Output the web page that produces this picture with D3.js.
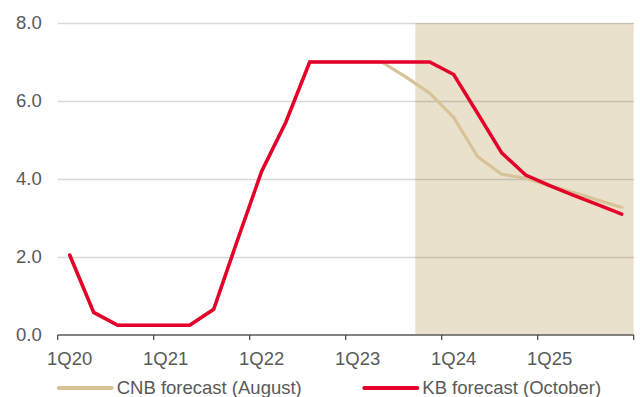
<!DOCTYPE html>
<html>
<head>
<meta charset="utf-8">
<script src="https://cdn.jsdelivr.net/npm/d3@7"></script>
<style>
  body { margin: 0; background: #fff; }
  svg text { font-family: "Liberation Sans", Arial, sans-serif; fill: #595959; }
</style>
</head>
<body>
<div id="chart"></div>
<script>
// quarters 1Q20 .. 4Q25
var quarters = [];
[20, 21, 22, 23, 24, 25].forEach(function(y) {
    [1, 2, 3, 4].forEach(function(q) { quarters.push(q + "Q" + y); });
});

var cnbForecast = [2.05, 0.58, 0.25, 0.25, 0.25, 0.25, 0.66, 2.45, 4.2, 5.45, 7.0, 7.0,
                   7.0, 7.0, 6.62, 6.2, 5.58, 4.57, 4.12, 4.02, 3.83, 3.65, 3.46, 3.27];
var kbForecast  = [2.05, 0.58, 0.25, 0.25, 0.25, 0.25, 0.66, 2.45, 4.2, 5.45, 7.0, 7.0,
                   7.0, 7.0, 7.0, 7.0, 6.68, 5.68, 4.67, 4.1, 3.83, 3.58, 3.34, 3.1];
var yTicks = [0, 2, 4, 6, 8];
var xLabels = ["1Q20", "1Q21", "1Q22", "1Q23", "1Q24", "1Q25"];
var shadeFrom = 14.9; // in quarters from start of 1Q20
var seriesNames = ["CNB forecast (August)", "KB forecast (October)"];

var m = {top: 23, right: 6.3, bottom: 62, left: 57.7}
    , W = 640, H = 397
    , w = W - m.left - m.right
    , h = H - m.top - m.bottom;

var svg = d3.select("#chart").append("svg")
    .attr("width", W)
    .attr("height", H)
    .append("g")
    .attr("transform", "translate(" + m.left + "," + m.top + ")");

var x = d3.scaleBand().domain(quarters).range([0, w]).padding(0);
var xq = d3.scaleLinear().domain([0, quarters.length]).range([0, w]);
var y = d3.scaleLinear().domain([0, 8]).range([h, 0]);

//shaded forecast area
svg.append("rect")
    .attr("x", xq(shadeFrom))
    .attr("y", y(8))
    .attr("width", xq(quarters.length) - xq(shadeFrom))
    .attr("height", y(0) - y(8))
    .attr("fill", "#e9e1cb");

//gridlines + y labels
var yAxis = d3.axisLeft(y).tickValues(yTicks).tickSize(-w).tickPadding(16)
    .tickFormat(d3.format(".1f"));
var gy = svg.append("g").call(yAxis);
gy.select(".domain").remove();
gy.selectAll("line")
    .attr("stroke", "#000")
    .attr("stroke-opacity", function(d) { return d === 0 ? 0 : 0.15; })
    .attr("stroke-width", 1.5);
gy.selectAll("text").style("font-size", "18.5px").attr("fill", "#595959");

//x axis
var gx = svg.append("g").attr("transform", "translate(0," + h + ")");
gx.append("line")
    .attr("x1", 0).attr("x2", w)
    .attr("stroke", "#595959").attr("stroke-width", 1.5);
var tickIdx = d3.range(0, quarters.length + 1, 4);
gx.selectAll(".tick").data(tickIdx).enter().append("line")
    .attr("x1", function(d) { return xq(d); })
    .attr("x2", function(d) { return xq(d); })
    .attr("y1", 0).attr("y2", 5)
    .attr("stroke", "#404040").attr("stroke-width", 1.2);
gx.selectAll(".lbl").data(xLabels).enter().append("text")
    .attr("x", function(d) { return x(d) + x.bandwidth() / 2; })
    .attr("y", 29.5)
    .attr("text-anchor", "middle")
    .style("font-size", "18.5px")
    .text(function(d) { return d; });

//lines
var line = d3.line()
    .x(function(d, i) { return x(quarters[i]) + x.bandwidth() / 2; })
    .y(function(d) { return y(d); });

svg.append("path").datum(cnbForecast)
    .attr("d", line)
    .attr("fill", "none")
    .attr("stroke", "#d7c397")
    .attr("stroke-width", 3.2)
    .attr("stroke-linecap", "round");

svg.append("path").datum(kbForecast)
    .attr("d", line)
    .attr("fill", "none")
    .attr("stroke", "#e4002b")
    .attr("stroke-width", 3.5)
    .attr("stroke-linecap", "round");

//legend
var legend = [
    {name: seriesNames[0], color: "#d7c397", x: 0},
    {name: seriesNames[1], color: "#e4002b", x: 305.6}
];
var lg = svg.selectAll(".legend").data(legend).enter().append("g")
    .attr("transform", function(d) { return "translate(" + (d.x + 1) + "," + (h + 53) + ")"; });
lg.append("line")
    .attr("x1", 0).attr("x2", 53)
    .attr("stroke", function(d) { return d.color; })
    .attr("stroke-width", 4)
    .attr("stroke-linecap", "round");
lg.append("text")
    .attr("x", 58)
    .attr("dy", "0.35em")
    .style("font-size", "18.5px")
    .text(function(d) { return d.name; });
</script>
</body>
</html>
